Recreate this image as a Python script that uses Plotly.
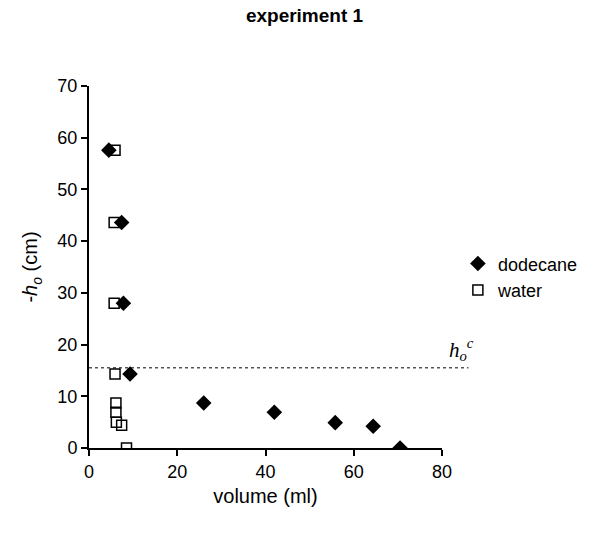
import plotly.graph_objects as go

# data
dodecane_x = [4.5, 7.4, 7.8, 9.3, 26.0, 42.0, 55.8, 64.4, 70.5]
dodecane_y = [57.6, 43.6, 28.0, 14.3, 8.7, 6.9, 4.9, 4.2, 0.0]
water_x = [5.9, 5.7, 5.7, 5.9, 6.1, 6.1, 6.2, 7.4, 8.5]
water_y = [57.6, 43.6, 28.0, 14.3, 8.7, 6.9, 5.0, 4.4, 0.0]
critical_h = 15.5
x_ticks = [0, 20, 40, 60, 80]
y_ticks = [0, 10, 20, 30, 40, 50, 60, 70]

fig = go.Figure()
fig.add_trace(go.Scatter(
    x=water_x, y=water_y, mode="markers", name="water",
    marker=dict(symbol="square", size=10, color="rgba(255,255,255,0)",
                line=dict(color="black", width=1.5)),
))
fig.add_trace(go.Scatter(
    x=dodecane_x, y=dodecane_y, mode="markers", name="dodecane",
    marker=dict(symbol="diamond", size=12, color="black",
                line=dict(color="black", width=0)),
))

fig.add_shape(type="line", xref="paper", yref="y", x0=0, x1=1.075,
              y0=critical_h, y1=critical_h,
              line=dict(color="black", width=1, dash="dot"))
fig.add_annotation(xref="paper", yref="y", x=1.095, y=critical_h,
                   xanchor="right", yanchor="bottom", yshift=2, showarrow=False,
                   text="<i>h<sub>o</sub><sup>c</sup></i>",
                   font=dict(family="Liberation Serif", size=21, color="black"))

axis_common = dict(showline=True, linecolor="black", linewidth=2,
                   ticks="outside", ticklen=6, tickwidth=2, tickcolor="black",
                   showgrid=False, zeroline=False, mirror=False,
                   tickfont=dict(family="Liberation Sans", size=18, color="black"))

fig.update_xaxes(range=[0, 80], tickvals=x_ticks,
                 title=dict(text="volume (ml)", standoff=8,
                            font=dict(family="Liberation Sans", size=20, color="black")),
                 **axis_common)
fig.update_yaxes(range=[0, 70], tickvals=y_ticks,
                 title=dict(text="-<i>h<sub>o</sub></i> (cm)", standoff=14,
                            font=dict(family="Liberation Sans", size=20, color="black")),
                 **axis_common)

fig.update_layout(
    width=603, height=535,
    margin=dict(l=89, r=161, t=86, b=87),
    plot_bgcolor="white", paper_bgcolor="white",
    title=dict(text="<b>experiment 1</b>", x=0.505, xanchor="center",
               y=0.972, yanchor="middle",
               font=dict(family="Liberation Sans", size=19, color="black")),
    legend=dict(x=1.045, y=0.56, xanchor="left", yanchor="top",
                traceorder="reversed", itemwidth=30,
                font=dict(family="Liberation Sans", size=18, color="black"),
                bgcolor="rgba(0,0,0,0)"),
    showlegend=True,
)

fig.write_html("out.html")
